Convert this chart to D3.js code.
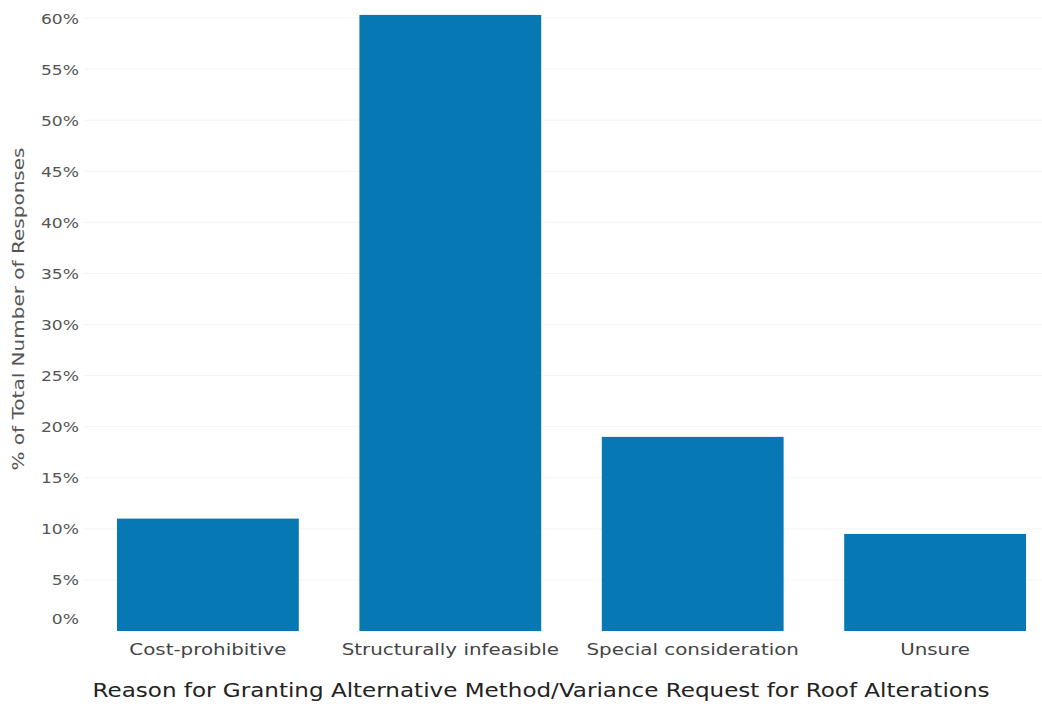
<!DOCTYPE html>
<html><head><meta charset="utf-8">
<script src="https://cdn.jsdelivr.net/npm/d3@7"></script>
<style>html,body{margin:0;padding:0;background:#fff;}svg{display:block;}</style>
</head><body>
<svg id="c" width="1042" height="704"></svg>
<script>
const categories = ["Cost-prohibitive", "Structurally infeasible", "Special consideration", "Unsure"];
const values = [11.0, 60.3, 19.0, 9.5];
const yTicks = [0, 5, 10, 15, 20, 25, 30, 35, 40, 45, 50, 55, 60];
const yTitle = "% of Total Number of Responses";
const xTitle = "Reason for Granting Alternative Method/Variance Request for Roof Alterations";

const svg = d3.select("#c");
const font = "'DejaVu Sans', sans-serif";
function stretch(sel, k) {
  sel.each(function () {
    const w = this.getComputedTextLength();
    d3.select(this).attr("textLength", w * k).attr("lengthAdjust", "spacingAndGlyphs");
  });
}
const y0 = 631, y60 = 18;
const y = d3.scaleLinear().domain([0, 60]).range([y0, y60]);
const x = d3.scaleBand().domain(categories).range([117, 1026]).paddingInner(0.25).paddingOuter(0);

// grid
svg.append("g").selectAll("line").data(yTicks.slice(1)).join("line")
  .attr("x1", 84).attr("x2", 1042)
  .attr("y1", d => y(d)).attr("y2", d => y(d))
  .attr("stroke", "#f3f3f3").attr("stroke-width", 1);

// y axis
const yAxis = d3.axisLeft(y).tickValues(yTicks).tickFormat(d => d + "%").tickSize(0).tickPadding(0);
const ya = svg.append("g").attr("transform", "translate(79,0)").call(yAxis);
ya.select(".domain").remove();
ya.selectAll("text").attr("font-family", font).attr("font-size", 14.5).attr("fill", "#555")
  .attr("dy", d => d === 0 ? "-0.55em" : "0.35em").call(stretch, 1.18);

// bars
svg.append("g").selectAll("rect").data(values).join("rect")
  .attr("x", (d, i) => x(categories[i]))
  .attr("width", x.bandwidth())
  .attr("y", d => y(d))
  .attr("height", d => y0 - y(d))
  .attr("fill", "#0678b4");

// x axis
const xAxis = d3.axisBottom(x).tickSize(0).tickPadding(0);
const xa = svg.append("g").attr("transform", `translate(0,${y0})`).call(xAxis);
xa.select(".domain").remove();
xa.selectAll("text").attr("font-family", font).attr("font-size", 16).attr("fill", "#444").attr("dy", "1.5em")
  .call(stretch, 1.24);

// titles
svg.append("text").attr("x", 541).attr("y", 697).attr("text-anchor", "middle")
  .attr("font-family", font).attr("font-size", 20).attr("fill", "#222").text(xTitle)
  .attr("textLength", 897).attr("lengthAdjust", "spacingAndGlyphs");
svg.append("text").attr("transform", "translate(24,309) rotate(-90)").attr("text-anchor", "middle")
  .attr("font-family", font).attr("font-size", 15.5).attr("fill", "#555").text(yTitle)
  .attr("textLength", 323).attr("lengthAdjust", "spacingAndGlyphs");
</script>
</body></html>
